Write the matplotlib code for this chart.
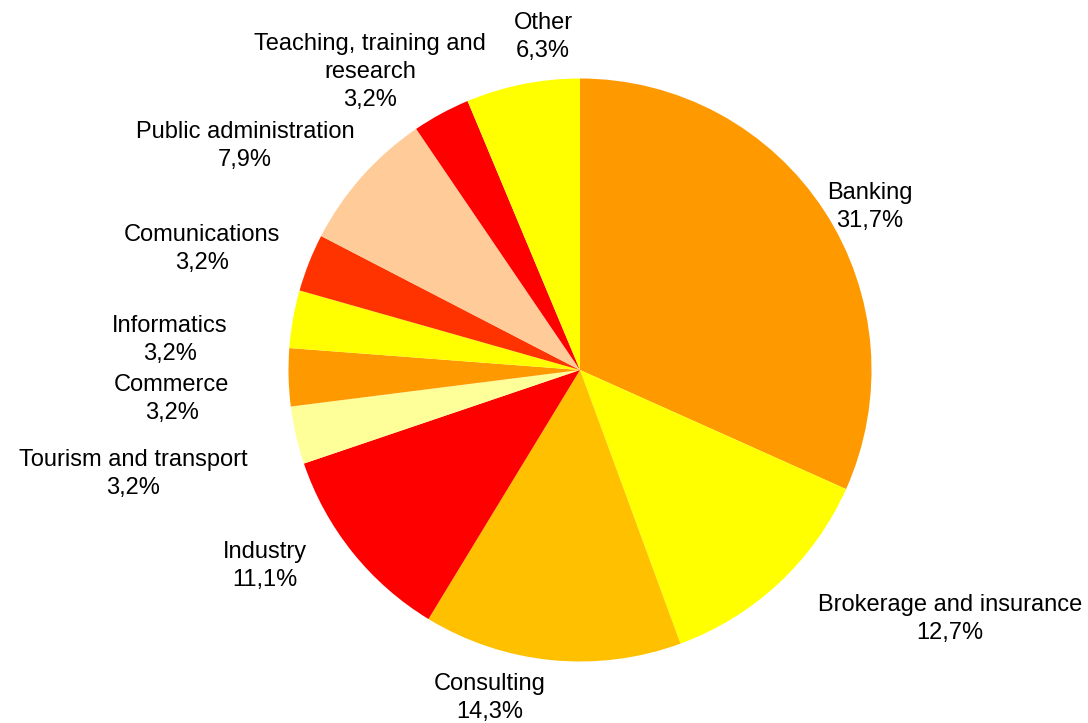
import matplotlib
matplotlib.use("Agg")
import matplotlib.pyplot as plt
import numpy as np

plt.rcParams['font.family'] = ['Liberation Sans', 'DejaVu Sans']

# data
sectors = ["Banking", "Brokerage and insurance", "Consulting", "Industry",
           "Tourism and transport", "Commerce", "Informatics", "Comunications",
           "Public administration", "Teaching, training and\nresearch", "Other"]
shares = [31.7, 12.7, 14.3, 11.1, 3.2, 3.2, 3.2, 3.2, 7.9, 3.2, 6.3]
colors = ["#FF9900", "#FFFF00", "#FFC000", "#FF0000", "#FFFF99", "#FF9900",
          "#FFFF00", "#FF3300", "#FFCC99", "#FF0000", "#FFFF00"]

# label centres in pie-radius units (Excel "best fit" placement)
label_xy = [(0.995, 0.566), (1.269, -0.847), (-0.309, -1.118), (-1.081, -0.666),
            (-1.533, -0.350), (-1.400, -0.093), (-1.406, 0.110), (-1.297, 0.422),
            (-1.149, 0.775), (-0.720, 1.029), (-0.127, 1.150)]

fig = plt.figure(figsize=(10.88, 7.23), dpi=100)
ax = fig.add_axes([0, 0, 1, 1])

ax.pie(shares, colors=colors, startangle=90, counterclock=False,
       radius=1.0, wedgeprops=dict(linewidth=0))

r = 291.5  # pie radius in pixels
for name, val, (x, y) in zip(sectors, shares, label_xy):
    txt = f"{name}\n{val:.1f}%".replace(".", ",")
    ax.text(x, y - 2 / r, txt, ha="center", va="center", fontsize=17,
            multialignment="center", color="black", linespacing=1.35)

# centre at (580, 370) px
ax.set_xlim(-580 / r, (1088 - 580) / r)
ax.set_ylim(-(723 - 370) / r, 370 / r)
ax.set_aspect("auto")
ax.axis("off")

fig.savefig("out.png", dpi=100, facecolor="white")
